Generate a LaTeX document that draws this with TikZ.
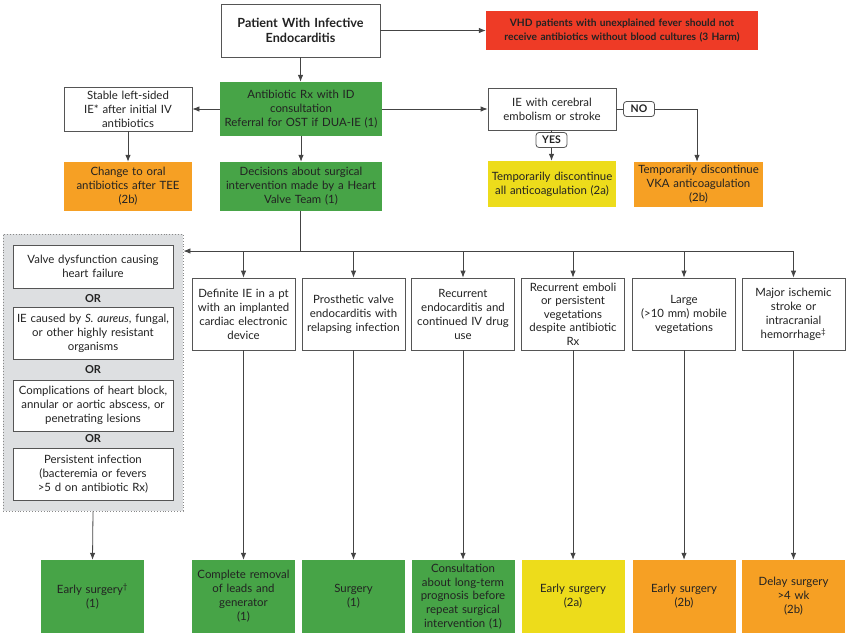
\documentclass[tikz,border=0pt]{standalone}
\usepackage{fontspec}
\setmainfont{Lato}
\usetikzlibrary{arrows.meta,calc}
\definecolor{gr}{HTML}{47A447}
\definecolor{orng}{HTML}{F6A024}
\definecolor{yel}{HTML}{EDDC1B}
\definecolor{redc}{HTML}{EE3B26}
\definecolor{grayfill}{HTML}{DDDFE1}
\definecolor{bd}{HTML}{555555}
\definecolor{txt}{HTML}{222222}
\begin{document}
\begin{tikzpicture}[x=1pt,y=-1pt,
  every node/.style={font=\fontsize{11.4}{14}\selectfont, text=txt},
  box/.style={draw=bd, line width=0.8pt, align=center, inner sep=0pt, fill=white},
  fbox/.style={draw=none, align=center, inner sep=0pt, fill=#1},
  sz/.style 2 args={minimum width=#1pt, minimum height=#2pt, text width=#1pt},
  lbl/.style={draw=bd, line width=0.8pt, rounded corners=3pt, fill=white, inner sep=0pt,
    minimum width=31pt, minimum height=15pt, font=\fontsize{10.5}{12}\selectfont\bfseries},
  orl/.style={font=\fontsize{11}{12}\selectfont\bfseries},
  arr/.style={draw=bd!80!black, line width=0.8pt, -{Latex[length=7pt,width=5.5pt]}},
  ln/.style={draw=bd!80!black, line width=0.8pt}]
\useasboundingbox (0,0) rectangle (850,638);

% top row
\node[box, sz={159}{53}, font=\fontsize{12.6}{14.5}\selectfont\bfseries] (top) at (300.5,30.5) {Patient With Infective\\Endocarditis};
\node[fbox=redc, sz={272}{39}, font=\fontsize{10.2}{13.7}\selectfont\bfseries] (red) at (622,30.5) {VHD patients with unexplained fever should not\\receive antibiotics without blood cultures (3 Harm)};

% second row
\node[fbox=gr, sz={162}{54}] (anti) at (301,109) {Antibiotic Rx with ID\\consultation\\Referral for OST if DUA-IE (1)};
\node[box, sz={128}{44}] (stable) at (128,109) {Stable left-sided\\IE* after initial IV\\antibiotics};
\node[box, sz={128}{42}] (cereb) at (552,109) {IE with cerebral\\embolism or stroke};
\node[lbl] (no) at (639,109) {NO};
\node[lbl] (yes) at (551.5,140) {YES};

% third row
\node[fbox=orng, sz={128}{49}] (oral) at (128,186.5) {Change to oral\\antibiotics after TEE\\(2b)};
\node[fbox=gr, sz={162}{49}] (dec) at (301,186.5) {Decisions about surgical\\intervention made by a Heart\\Valve Team (1)};
\node[fbox=yel, sz={128}{46}] (allac) at (552,184) {Temporarily discontinue\\all anticoagulation (2a)};
\node[fbox=orng, sz={129}{45}] (vka) at (698.5,184.5) {Temporarily discontinue\\VKA anticoagulation\\(2b)};

% gray group
\node[draw=bd!70, dotted, line width=0.9pt, fill=grayfill, minimum width=180pt, minimum height=277pt, inner sep=0pt] (grp) at (93,372.5) {};
\node[box, sz={160}{43}] (g1) at (93,266.5) {Valve dysfunction causing\\heart failure};
\node[orl] (or1) at (93,299) {OR};
\node[box, sz={160}{52}] (g2) at (93,333) {IE caused by \textit{S. aureus}, fungal,\\or other highly resistant\\organisms};
\node[orl] (or2) at (93,370) {OR};
\node[box, sz={160}{51}] (g3) at (93,405.5) {Complications of heart block,\\annular or aortic abscess, or\\penetrating lesions};
\node[orl] (or3) at (93,439) {OR};
\node[box, sz={160}{52}] (g4) at (93,474) {Persistent infection\\(bacteremia or fevers\\>5 d on antibiotic Rx)};

% middle row
\node[box, sz={103}{72}] (ma) at (243.5,314) {Definite IE in a pt\\with an implanted\\cardiac electronic\\device};
\node[box, sz={103}{72}] (mb) at (353.5,314) {Prosthetic valve\\endocarditis with\\relapsing infection};
\node[box, sz={103}{72}] (mc) at (463,314) {Recurrent\\endocarditis and\\continued IV drug\\use};
\node[box, sz={103}{72}, font=\fontsize{11.4}{13.6}\selectfont] (md) at (573,314) {Recurrent emboli\\or persistent\\vegetations\\despite antibiotic\\Rx};
\node[box, sz={103}{72}] (me) at (684,314) {Large\\(>10 mm) mobile\\vegetations};
\node[box, sz={103}{72}] (mf) at (793.5,314) {Major ischemic\\stroke or\\intracranial\\hemorrhage\textsuperscript{‡}};

% bottom row
\node[fbox=gr, sz={103}{73}] (b0) at (92.5,596.5) {Early surgery\textsuperscript{†}\\(1)};
\node[fbox=gr, sz={103}{73}] (ba) at (243.5,596.5) {Complete removal\\of leads and\\generator\\(1)};
\node[fbox=gr, sz={103}{73}] (bb) at (353.5,596.5) {Surgery\\(1)};
\node[fbox=gr, sz={103}{73}, font=\fontsize{11.4}{13.6}\selectfont] (bc) at (463,596.5) {Consultation\\about long-term\\prognosis before\\repeat surgical\\intervention (1)};
\node[fbox=yel, sz={103}{73}] (bd0) at (573,596.5) {Early surgery\\(2a)};
\node[fbox=orng, sz={103}{73}] (be) at (684,596.5) {Early surgery\\(2b)};
\node[fbox=orng, sz={103}{73}] (bf) at (793.5,596.5) {Delay surgery\\>4 wk\\(2b)};

% connectors
\draw[arr] (top.east) -- (red.west |- top.east);
\draw[arr] (top.south) -- (top.south |- anti.north);
\draw[arr] (anti.west) -- (stable.east |- anti.west);
\draw[arr] (anti.east) -- (cereb.west |- anti.east);
\draw[arr] (stable.south) -- (oral.north);
\draw[arr] (anti.south) -- (anti.south |- dec.north);
\draw[ln] (cereb.east |- no.west) -- (no.west);
\coordinate (nocorner) at (697,109);
\draw[arr] (no.east) -- (nocorner) -- (nocorner |- vka.north);
\draw[ln] (yes.north |- cereb.south) -- (yes.north);
\draw[arr] (yes.south) -- (yes.south |- allac.north);

\coordinate (br) at (300.5,251);
\draw[ln] (dec.south -| br) -- (br);
\draw[arr] (mf.north |- br) -- (grp.east |- br);
\foreach \n in {ma,mb,mc,md,me,mf}{
  \draw[arr] (\n.north |- br) -- (\n.north);
}
\draw[arr] (grp.south) -- (b0.north);
\draw[arr] (ma.south) -- (ba.north);
\draw[arr] (mb.south) -- (bb.north);
\draw[arr] (mc.south) -- (bc.north);
\draw[arr] (md.south) -- (bd0.north);
\draw[arr] (me.south) -- (be.north);
\draw[arr] (mf.south) -- (bf.north);
\end{tikzpicture}
\end{document}
